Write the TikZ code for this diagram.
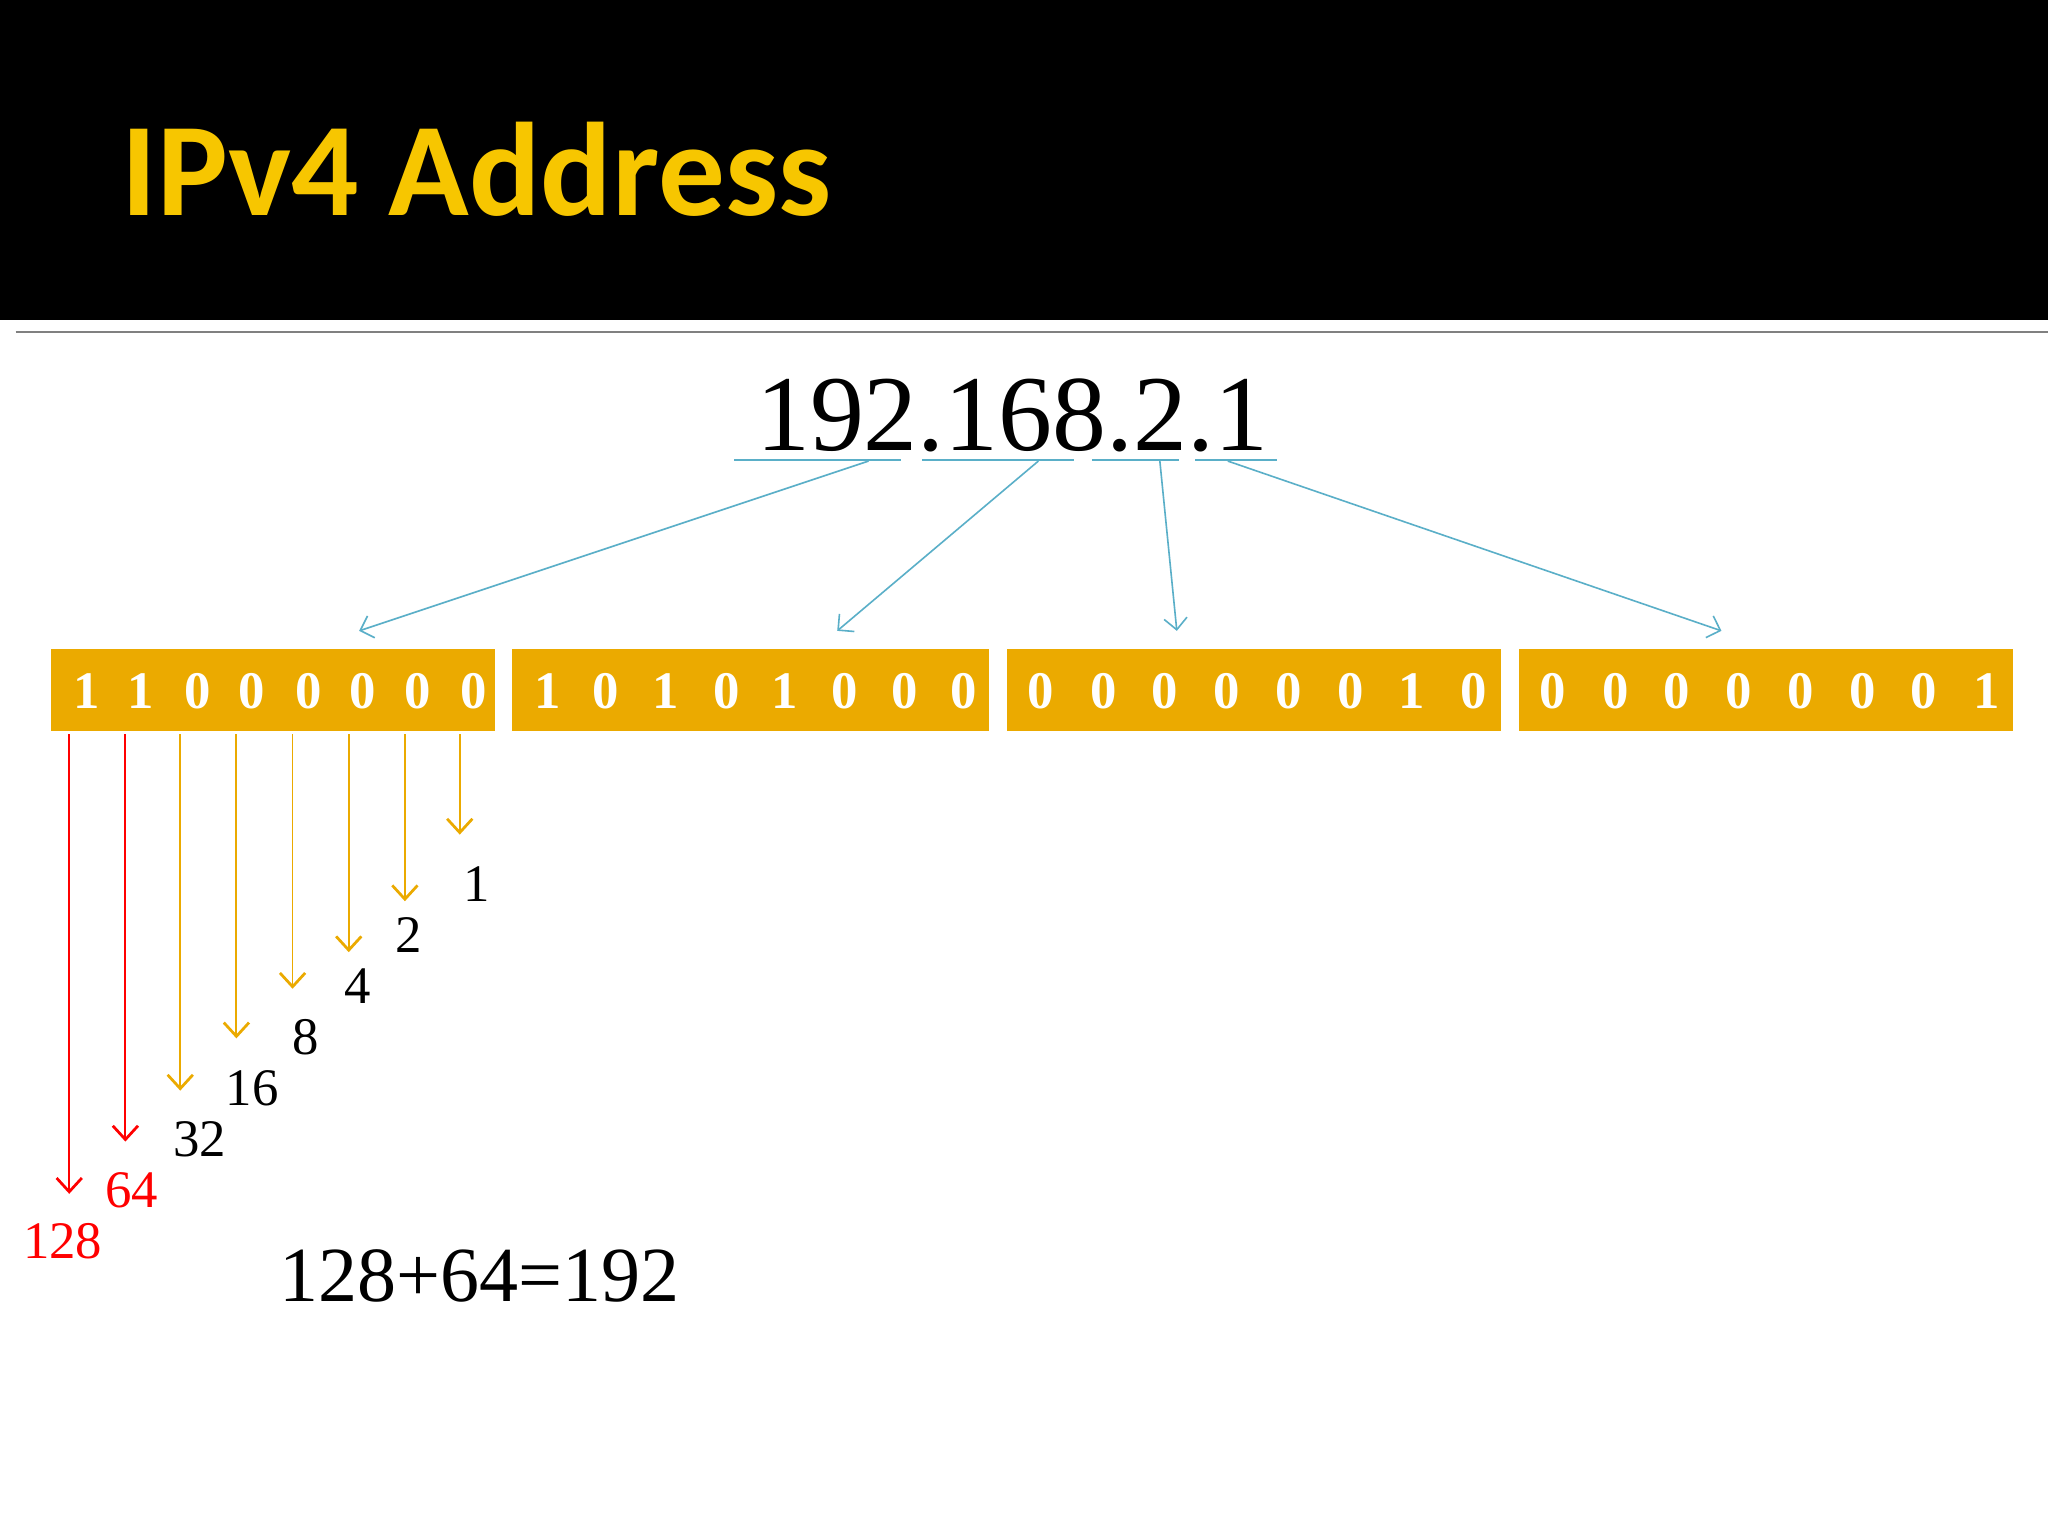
\documentclass[tikz,border=0pt]{standalone}
\usepackage{fontspec}
\setmainfont{Liberation Serif}
\newfontfamily\titlefont{Carlito}
\usetikzlibrary{arrows.meta}
\definecolor{gold}{HTML}{EBAA00}
\definecolor{ttl}{HTML}{F7C600}
\definecolor{lblue}{HTML}{5AAFC8}
\begin{document}
\begin{tikzpicture}[x=0.02cm,y=-0.02cm,
  bitbox/.style={fill=gold,draw=none},
  bit/.style={text=white,font=\fontsize{23}{23}\selectfont\bfseries},
  barr/.style={lblue,line width=0.7pt,-{Straight Barb[length=5pt,width=10pt]}},
  darr/.style={line width=0.8pt,-{Straight Barb[length=6pt,width=11pt,line width=1.2pt]}},
  lab/.style={font=\fontsize{23}{23}\selectfont}]
\useasboundingbox (0,0) rectangle (1568,1176);
\fill[white] (0,0) rectangle (1568,1176);
\fill[black] (0,0) rectangle (1568,245);
\draw[gray,line width=0.8pt] (12,254) -- (1568,254);
\node[anchor=base west,text=ttl,font=\titlefont\bfseries\fontsize{58}{58}\selectfont,inner sep=0] (title) at (93,165) {IPv4 Address};
\node[font=\fontsize{47}{47}\selectfont,anchor=base,inner sep=0] (ip) at (775,345) {192.168.2.1};
\foreach \a/\b/\n in {562/690/u1,706/822/u2,836/903/u3,915/978/u4}
  \draw[lblue,line width=0.7pt] (\a,352) -- (\b,352);
\coordinate (s1) at (665,353); \coordinate (s2) at (795,353);
\coordinate (s3) at (888,353); \coordinate (s4) at (940,353);
\coordinate (e1) at (275,483); \coordinate (e2) at (641,483);
\coordinate (e3) at (901,483); \coordinate (e4) at (1318,483);
\foreach \i in {1,2,3,4} \draw[barr] (s\i) -- (e\i);
\fill[bitbox] (39,497) rectangle (379,560);
\fill[bitbox] (392,497) rectangle (757,560);
\fill[bitbox] (771,497) rectangle (1149,560);
\fill[bitbox] (1163,497) rectangle (1541,560);
\foreach \x/\v in {66/1,108/1,151/0,193/0,236/0,278/0,320/0,363/0,
  419/1,464/0,510/1,556/0,601/1,647/0,693/0,738/0,
  797/0,845/0,892/0,939/0,987/0,1034/0,1081/1,1128/0,
  1189/0,1237/0,1284/0,1331/0,1379/0,1426/0,1473/0,1521/1}
  \node[bit] at (\x,529) {\v};
\foreach \x/\y/\c in {53/914/red,96/874/red,138/835/gold,181/795/gold,224/757/gold,267/729/gold,310/690/gold,352/639/gold}
  { \coordinate (t\x) at (\x,562); \coordinate (b\x) at (\x,\y);
    \draw[darr,\c] (t\x) -- (b\x); }
\node[lab,text=red] at (48,950) {128};
\node[lab,text=red] at (101,911) {64};
\node[lab] at (153,872) {32};
\node[lab] at (193,833) {16};
\node[lab] at (234,794) {8};
\node[lab] at (274,755) {4};
\node[lab] at (313,716) {2};
\node[lab] at (365,677) {1};
\node[font=\fontsize{34}{34}\selectfont] (sum) at (367,977) {128+64=192};
\end{tikzpicture}
\end{document}
